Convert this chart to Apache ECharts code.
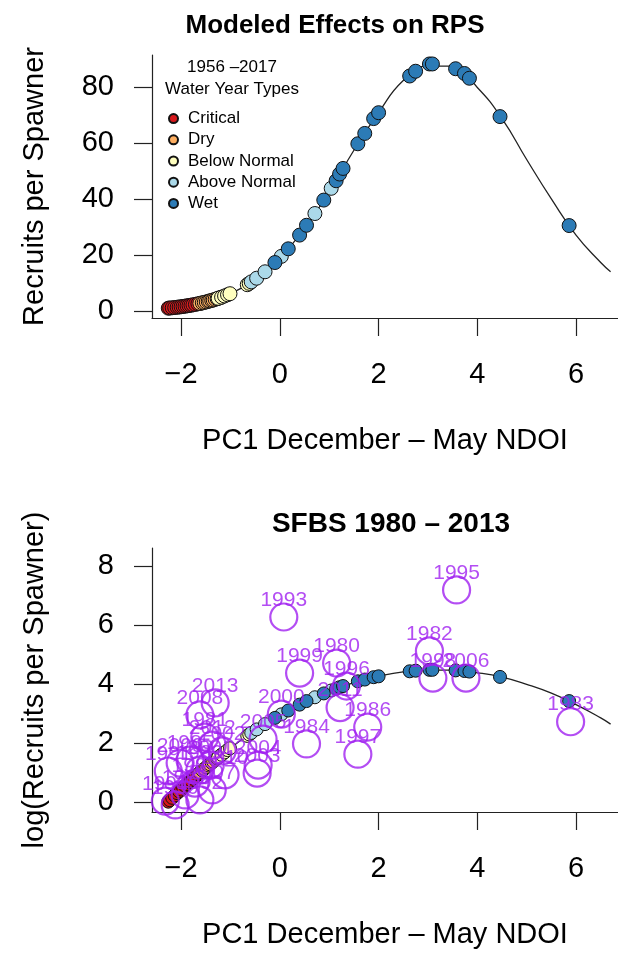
<!DOCTYPE html>
<html>
<head>
<meta charset="utf-8">
<script src="https://cdn.jsdelivr.net/npm/echarts@6/dist/echarts.min.js"></script>
<style>
  html, body { margin: 0; padding: 0; background: #fff; }
  #chart { width: 618px; height: 953px; }
</style>
</head>
<body>
<div id="chart"></div>
<script>
// fitted curve (x = PC1, RPS for top, log RPS for bottom)
var curveX   = [-2.3, -2.0, -1.5, -1.0, -0.5, 0, 0.5, 1.0, 1.5, 2.0, 2.5, 3.0, 3.5, 4.0, 4.5, 5.0, 5.5, 6.0, 6.5, 6.7];
var curveRps = [0.94, 1.52, 3.22, 6.24, 11.4, 18.9, 29.6, 42.5, 57.4, 70.8, 82.3, 87.4, 87.4, 79.8, 68.7, 54.1, 40.0, 27.1, 17.3, 14.0];
var curveLog = [-0.06, 0.42, 1.17, 1.83, 2.43, 2.94, 3.39, 3.75, 4.05, 4.26, 4.41, 4.47, 4.47, 4.38, 4.23, 3.99, 3.69, 3.30, 2.85, 2.64];

// water years 1956-2017 by type
var critX   = [-2.26, -2.23, -2.18, -2.13, -2.08, -2.04, -2.0, -1.96, -1.92, -1.88, -1.84, -1.80, -1.76, -1.71, -1.66, -1.60];
var critRps = [1.01, 1.06, 1.15, 1.25, 1.35, 1.43, 1.52, 1.63, 1.73, 1.84, 1.95, 2.08, 2.20, 2.36, 2.56, 2.77];
var critLog = [0.01, 0.06, 0.14, 0.22, 0.30, 0.36, 0.42, 0.49, 0.55, 0.61, 0.67, 0.73, 0.79, 0.86, 0.94, 1.02];

var dryX   = [-1.62, -1.57, -1.53, -1.49, -1.45, -1.42, -1.38, -1.35, -1.31, -1.27, -1.23, -1.19];
var dryRps = [2.72, 2.92, 3.06, 3.25, 3.46, 3.60, 3.78, 3.94, 4.18, 4.39, 4.66, 4.90];
var dryLog = [1.00, 1.07, 1.12, 1.18, 1.24, 1.28, 1.33, 1.37, 1.43, 1.48, 1.54, 1.59];

var bnX   = [-1.25, -1.18, -1.12, -1.06, -1.01, -0.66, -0.62];
var bnRps = [4.53, 4.95, 5.37, 5.81, 6.17, 9.39, 9.87];
var bnLog = [1.51, 1.60, 1.68, 1.76, 1.82, 2.24, 2.29];

var anX   = [-0.58, -0.47, -0.30, 0.03, 0.71, 1.04];
var anRps = [10.4, 11.7, 14.0, 19.5, 34.8, 43.8];
var anLog = [2.34, 2.46, 2.64, 2.97, 3.55, 3.78];

var wetX   = [-0.10, 0.17, 0.40, 0.54, 0.89, 1.14, 1.21, 1.28, 1.58, 1.72, 1.90, 2.00, 2.63, 2.75, 3.03, 3.09, 3.56, 3.74, 3.84, 4.46, 5.86];
var wetRps = [17.3, 22.2, 27.1, 30.6, 39.6, 46.5, 48.9, 50.9, 59.7, 63.4, 68.7, 70.8, 83.9, 85.6, 88.2, 88.2, 86.5, 84.8, 83.1, 69.4, 30.5];
var wetLog = [2.85, 3.10, 3.30, 3.42, 3.68, 3.84, 3.89, 3.93, 4.09, 4.15, 4.23, 4.26, 4.43, 4.45, 4.48, 4.48, 4.46, 4.44, 4.42, 4.24, 3.42];

// observed SFBS 1980-2013
var obsYear = [1980, 1981, 1982, 1983, 1984, 1985, 1986, 1987, 1988, 1989, 1990, 1991, 1992, 1993, 1994, 1995, 1996,
               1997, 1998, 1999, 2000, 2001, 2002, 2003, 2004, 2005, 2006, 2007, 2008, 2009, 2010, 2011, 2012, 2013];
var obsX = [1.15, -1.52, 3.03, 5.89, 0.54, -1.82, 1.78, -1.72, -1.92, -1.62, -2.12, -2.26, -1.62, 0.08, -2.32, 3.58, 1.35,
            1.58, 3.10, 0.40, 0.03, -1.41, -1.17, -0.46, -0.44, -0.34, 3.77, -1.37, -1.62, -2.02, -1.11, 1.22, -1.37, -1.31];
var obsLog = [4.71, 2.2, 5.12, 2.72, 1.97, 1.42, 2.54, 0.64, 0.24, 1.08, -0.10, 1.05, 0.07, 6.27, 0.03, 7.19, 3.93,
              1.62, 4.2, 4.37, 2.98, 1.25, 1.73, 0.98, 1.25, 2.13, 4.2, 0.41, 2.95, 1.32, 0.92, 3.2, 1.93, 3.36];

var xTicks = [-2, 0, 2, 4, 6];
var rpsTicks = [0, 20, 40, 60, 80];
var logTicks = [0, 2, 4, 6, 8];

var typeNames = ['Critical', 'Dry', 'Below Normal', 'Above Normal', 'Wet'];
var typeColors = ['#d7191c', '#fdae61', '#ffffbf', '#abd9e9', '#2c7bb6'];

var FONT = "'Liberation Sans', Arial, Helvetica, sans-serif";

function pairs(xs, ys) {
    return xs.map(function (x, i) { return [x, ys[i]]; });
}
function minus(v) {
    return v < 0 ? '\u2212' + Math.abs(v) : String(v);
}

function xAxisFor(gridIndex) {
    return {
        gridIndex: gridIndex,
        type: 'value',
        min: -2.59,
        max: 6.85,
        name: 'PC1 December \u2013 May NDOI',
        nameLocation: 'middle',
        nameGap: 108,
        nameTextStyle: { fontFamily: FONT, fontSize: 29, color: '#000' },
        axisLine: { show: true, onZero: false, lineStyle: { color: '#222', width: 1.2 } },
        axisTick: { show: true, length: 18, customValues: xTicks, lineStyle: { color: '#222', width: 1.2 } },
        axisLabel: { customValues: xTicks, margin: 42, fontFamily: FONT, fontSize: 29, color: '#000', formatter: minus },
        splitLine: { show: false }
    };
}

function yAxisFor(gridIndex, min, max, ticks, name) {
    return {
        gridIndex: gridIndex,
        type: 'value',
        min: min,
        max: max,
        name: name,
        nameLocation: 'middle',
        nameGap: 103,
        nameTextStyle: { fontFamily: FONT, fontSize: 29, color: '#000' },
        axisLine: { show: true, onZero: false, lineStyle: { color: '#222', width: 1.2 } },
        axisTick: { show: true, length: 18, customValues: ticks, lineStyle: { color: '#222', width: 1.2 } },
        axisLabel: { customValues: ticks, margin: 38, fontFamily: FONT, fontSize: 29, color: '#000' },
        splitLine: { show: false }
    };
}

var series = [];
series.push({
    type: 'line', xAxisIndex: 0, yAxisIndex: 0, data: pairs(curveX, curveRps),
    smooth: 0.5, showSymbol: false, silent: true, z: 1,
    lineStyle: { color: '#222', width: 1.3 }
});
series.push({
    type: 'line', xAxisIndex: 1, yAxisIndex: 1, data: pairs(curveX, curveLog),
    smooth: 0.5, showSymbol: false, silent: true, z: 1,
    lineStyle: { color: '#222', width: 1.3 }
});
var topSets = [[critX, critRps], [dryX, dryRps], [bnX, bnRps], [anX, anRps], [wetX, wetRps]];
var botSets = [[critX, critLog], [dryX, dryLog], [bnX, bnLog], [anX, anLog], [wetX, wetLog]];
typeNames.forEach(function (name, i) {
    series.push({
        name: name, type: 'scatter', xAxisIndex: 0, yAxisIndex: 0,
        data: pairs(topSets[i][0], topSets[i][1]), symbolSize: 14, z: 3,
        itemStyle: { color: typeColors[i], borderColor: '#111', borderWidth: 1, opacity: 1 }
    });
    series.push({
        name: name, type: 'scatter', xAxisIndex: 1, yAxisIndex: 1,
        data: pairs(botSets[i][0], botSets[i][1]), symbolSize: 13, z: 3,
        itemStyle: { color: typeColors[i], borderColor: '#111', borderWidth: 1, opacity: 1 }
    });
});
series.push({
    name: 'observed', type: 'scatter', xAxisIndex: 1, yAxisIndex: 1, z: 5,
    data: pairs(obsX, obsLog), symbolSize: 27,
    itemStyle: { color: 'rgba(0,0,0,0)', borderColor: '#a020f0', borderWidth: 2.2 },
    label: {
        show: true, position: 'top', distance: -8,
        formatter: function (p) { return obsYear[p.dataIndex]; },
        color: '#a020f0', fontFamily: FONT, fontSize: 21
    },
    labelLayout: { hideOverlap: false }
});

var chart = echarts.init(document.getElementById('chart'), null, { renderer: 'canvas' });
chart.setOption({
    animation: false,
    backgroundColor: '#fff',
    title: [
        { text: 'Modeled Effects on RPS', left: 330, top: 8, textAlign: 'center',
          textStyle: { fontFamily: FONT, fontSize: 26, fontWeight: 'bold', color: '#000' } },
        { text: 'SFBS 1980 \u2013 2013', left: 386, top: 505, textAlign: 'center',
          textStyle: { fontFamily: FONT, fontSize: 28, fontWeight: 'bold', color: '#000' } }
    ],
    grid: [
        { left: 152, top: 55, width: 466, height: 263 },
        { left: 152, top: 548, width: 466, height: 264 }
    ],
    xAxis: [xAxisFor(0), xAxisFor(1)],
    yAxis: [
        yAxisFor(0, -2.5, 91.4, rpsTicks, 'Recruits per Spawner'),
        yAxisFor(1, -0.34, 8.61, logTicks, 'log(Recruits per Spawner)')
    ],
    legend: {
        data: typeNames,
        orient: 'vertical',
        left: 163, top: 103,
        itemWidth: 19, itemHeight: 9, itemGap: 0,
        icon: 'circle',
        selectedMode: false,
        textStyle: { fontFamily: FONT, fontSize: 17, color: '#000', lineHeight: 21.2 }
    },
    graphic: [
        { type: 'text', x: 232, y: 67,
          style: { text: '1956 \u20132017', font: '17px ' + FONT, fill: '#000', textAlign: 'center', textVerticalAlign: 'middle' } },
        { type: 'text', x: 232, y: 89,
          style: { text: 'Water Year Types', font: '17px ' + FONT, fill: '#000', textAlign: 'center', textVerticalAlign: 'middle' } }
    ],
    series: series
});
</script>
</body>
</html>
